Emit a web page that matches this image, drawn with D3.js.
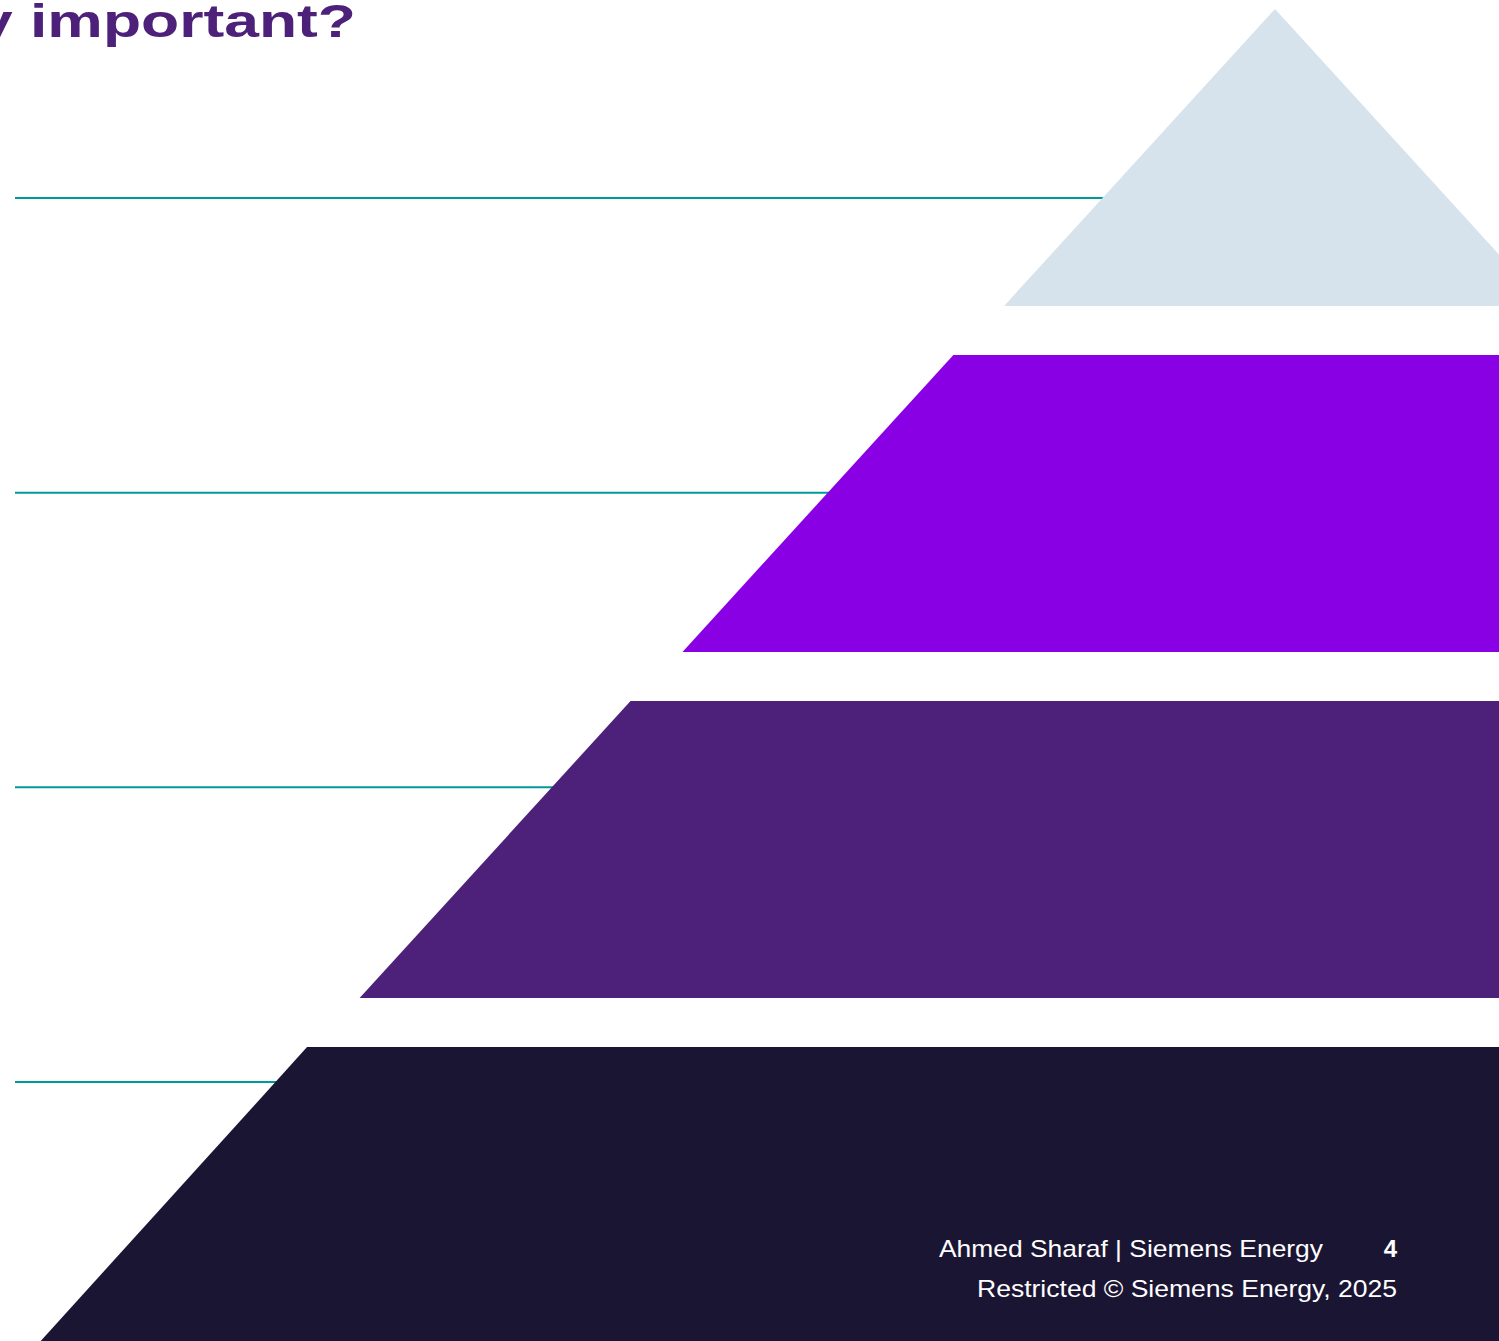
<!DOCTYPE html>
<html>
<head>
<meta charset="utf-8">
<script src="https://cdn.jsdelivr.net/npm/d3@7"></script>
<style>
  body { margin: 0; background: #fff; overflow: hidden; }
  svg { display: block; font-family: "Liberation Sans", Arial, sans-serif; }
</style>
</head>
<body>
<div id="chart"></div>
<script>
// pyramid levels, top to bottom
const levels = ["Level 1", "Level 2", "Level 3", "Level 4"];
// relative distance of each level's left edge from the apex (0 = apex, 1 = base)
const levelTop = [0, 0.26, 0.521, 0.7825];
const levelBottom = [0.219, 0.479, 0.74, 1.0];
const levelColors = ["#d6e3ed", "#8a00e5", "#4d217a", "#1b1534"];

// guide lines on the left
const guides = ["g1", "g2", "g3", "g4"];

const titleText = "Why is safety important?";
const titleVisible = "important?";
const footerLine1 = "Ahmed Sharaf | Siemens Energy";
const footerLine2 = "Restricted \u00a9 Siemens Energy, 2025";
const pageNumber = "4";

let width = 1499, height = 1341;

const svg = d3.select("#chart").append("svg")
    .attr("width", width)
    .attr("height", height);

// scales
const y = d3.scaleBand()
    .domain(levels)
    .range([9, 1344])
    .paddingInner(0.142)
    .paddingOuter(0);

const x = d3.scaleLinear()
    .domain([0, 1])
    .range([1275, 38]);   // apex -> base left corner
const apex = x(0);

const yGuide = d3.scalePoint()
    .domain(guides)
    .range([198, 1082]);

// guide lines first, pyramid covers their ends
svg.selectAll("line.guide")
  .data(guides)
  .join("line")
    .attr("class", "guide")
    .attr("x1", 15)
    .attr("x2", 1300)
    .attr("y1", d => yGuide(d))
    .attr("y2", d => yGuide(d))
    .attr("stroke", "#009999")
    .attr("stroke-width", 2);

// pyramid layers (symmetric trapezoids, right side runs off the page)
svg.selectAll("path.level")
  .data(levels)
  .join("path")
    .attr("class", "level")
    .attr("fill", (d, i) => levelColors[i])
    .attr("d", (d, i) => {
      const t = y(d), b = y(d) + y.bandwidth();
      const lt = x(levelTop[i]), lb = x(levelBottom[i]);
      const pts = [[lt, t], [2 * apex - lt, t], [2 * apex - lb, b], [lb, b]];
      return d3.line()(pts) + "Z";
    });

// title (wide face, partly off the page on the left)
const titleX = 356, titleY = 37, titleSize = 46;
const probe = svg.append("text")
    .attr("font-size", titleSize).attr("font-weight", "bold")
    .text(titleVisible);
const stretch = 326 / probe.node().getComputedTextLength();
probe.remove();

svg.append("text")
    .attr("transform", `translate(${titleX},${titleY}) scale(${stretch},1)`)
    .attr("text-anchor", "end")
    .attr("font-size", titleSize)
    .attr("font-weight", "bold")
    .attr("fill", "#4d217a")
    .text(titleText);

// footer
const footer = svg.append("g").attr("fill", "#ffffff").attr("font-size", 24);
footer.append("text")
    .attr("x", 939).attr("y", 1257)
    .attr("textLength", 384)
    .attr("lengthAdjust", "spacingAndGlyphs")
    .text(footerLine1);
footer.append("text")
    .attr("x", 1397).attr("y", 1257)
    .attr("text-anchor", "end")
    .attr("font-weight", "bold")
    .text(pageNumber);
footer.append("text")
    .attr("x", 977).attr("y", 1297)
    .attr("textLength", 420)
    .attr("lengthAdjust", "spacingAndGlyphs")
    .text(footerLine2);
</script>
</body>
</html>
